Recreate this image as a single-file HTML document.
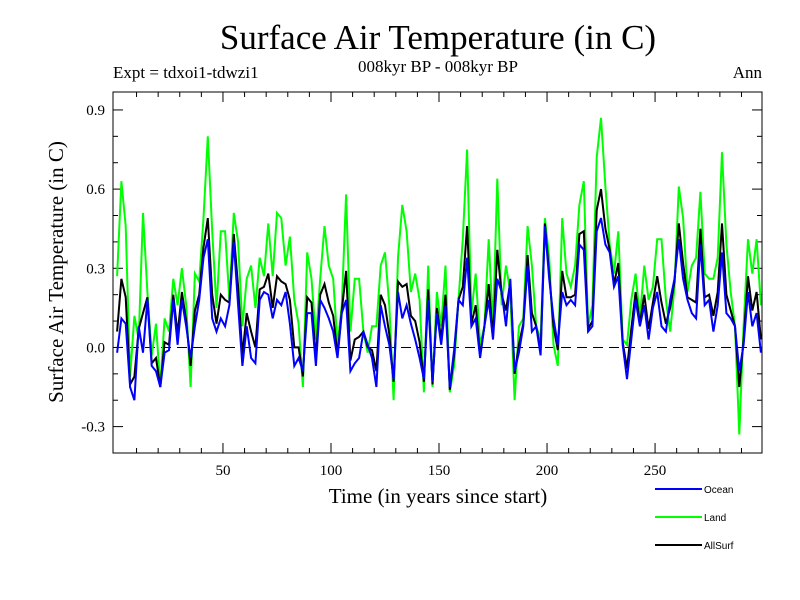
<!DOCTYPE html>
<html><head><meta charset="utf-8"><style>
html,body{margin:0;padding:0;background:#fff;}
svg{display:block;}
text{font-family:"Liberation Serif",serif;fill:#000;}
</style></head><body>
<svg id="chart" width="800" height="600">
<text x="438" y="49" font-size="35" text-anchor="middle">Surface Air Temperature (in C)</text>
<text x="438" y="72" font-size="17" text-anchor="middle">008kyr BP - 008kyr BP</text>
<text x="113" y="78" font-size="17">Expt = tdxoi1-tdwzi1</text>
<text x="762" y="78" font-size="17" text-anchor="end">Ann</text>
<text transform="translate(63,272) rotate(-90)" font-size="21" text-anchor="middle">Surface Air Temperature (in C)</text>
<text x="438" y="503" font-size="21" text-anchor="middle">Time (in years since start)</text>
<g id="ticks"></g>
<g id="series"></g>
<rect x="113" y="92" width="649" height="361" fill="none" stroke="#000" stroke-width="1"/>
<g id="legend"></g>
</svg>
<script>
const years = Array.from({length:150},(_,i)=>1+2*i);
const ocean = [-0.02,0.11,0.09,-0.15,-0.20,0.08,-0.02,0.18,-0.07,-0.09,-0.15,-0.02,-0.01,0.18,0.01,0.18,0.08,-0.04,0.08,0.18,0.34,0.41,0.11,0.06,0.11,0.08,0.16,0.40,0.16,-0.07,0.08,-0.04,-0.06,0.18,0.21,0.20,0.11,0.18,
0.16,0.21,0.09,-0.07,-0.04,-0.09,0.13,0.13,-0.07,0.18,0.15,0.11,0.06,-0.04,0.13,0.18,-0.09,-0.06,-0.04,0.06,0.01,-0.04,-0.15,0.16,0.08,0.01,-0.12,0.21,0.11,0.16,0.09,0.03,-0.04,-0.12,0.18,-0.13,0.13,
0.01,0.16,-0.15,-0.01,0.18,0.16,0.34,0.08,0.11,-0.04,0.08,0.18,0.03,0.26,0.21,0.08,0.26,-0.09,-0.02,0.08,0.31,0.06,0.08,-0.03,0.46,0.26,0.11,0.01,0.21,0.16,0.18,0.16,0.39,0.37,0.06,0.08,0.44,0.49,
0.39,0.36,0.23,0.27,0.01,-0.12,0.03,0.18,0.08,0.16,0.03,0.15,0.21,0.08,0.06,0.18,0.26,0.41,0.26,0.18,0.13,0.11,0.39,0.16,0.18,0.06,0.16,0.36,0.13,0.11,0.08,-0.09,0.01,0.21,0.08,0.13,-0.02];
const land = [0.27,0.63,0.46,-0.11,0.12,0.03,0.51,0.21,-0.03,0.09,-0.15,0.11,0.06,0.26,0.16,0.30,0.16,-0.15,0.28,0.25,0.49,0.80,0.44,0.15,0.44,0.44,0.18,0.51,0.40,0.08,0.26,0.31,0.15,0.34,0.27,0.47,0.27,0.51,
0.49,0.31,0.42,0.18,0.09,-0.15,0.36,0.26,0.03,0.26,0.46,0.31,0.26,0.01,0.16,0.58,0.06,0.26,0.26,0.06,-0.02,0.08,0.08,0.31,0.36,0.16,-0.20,0.34,0.54,0.44,0.21,0.28,0.18,-0.17,0.31,-0.15,0.21,
0.08,0.31,-0.17,-0.07,0.18,0.41,0.75,0.13,0.28,0.01,0.08,0.41,0.08,0.64,0.16,0.31,0.21,-0.20,0.08,0.11,0.46,0.31,0.08,0.03,0.49,0.34,0.01,-0.07,0.49,0.28,0.23,0.31,0.54,0.63,0.08,0.16,0.72,0.87,
0.61,0.39,0.28,0.44,0.03,0.01,0.18,0.28,0.11,0.31,0.18,0.23,0.41,0.41,0.18,0.06,0.23,0.61,0.49,0.21,0.31,0.34,0.59,0.28,0.26,0.26,0.34,0.74,0.39,0.21,0.08,-0.33,0.08,0.41,0.28,0.41,0.16];
const allSurf = [0.06,0.26,0.19,-0.14,-0.11,0.07,0.13,0.19,-0.06,-0.04,-0.15,0.02,0.01,0.20,0.05,0.21,0.10,-0.07,0.14,0.20,0.38,0.49,0.20,0.09,0.20,0.18,0.17,0.43,0.23,-0.03,0.13,0.06,0.00,0.22,0.23,0.28,0.15,0.27,
0.25,0.24,0.18,0.00,0.00,-0.11,0.19,0.17,-0.04,0.20,0.24,0.17,0.12,-0.03,0.14,0.29,-0.05,0.03,0.04,0.06,0.00,-0.01,-0.09,0.20,0.16,0.05,-0.13,0.25,0.23,0.24,0.12,0.10,0.02,-0.13,0.22,-0.14,0.15,
0.03,0.20,-0.16,-0.03,0.18,0.23,0.46,0.09,0.16,-0.03,0.08,0.24,0.04,0.37,0.20,0.14,0.25,-0.10,0.01,0.09,0.35,0.13,0.08,-0.01,0.47,0.28,0.08,-0.01,0.29,0.19,0.19,0.20,0.43,0.44,0.07,0.10,0.52,0.60,
0.45,0.37,0.24,0.32,0.02,-0.08,0.07,0.21,0.09,0.20,0.07,0.17,0.27,0.17,0.09,0.15,0.25,0.47,0.32,0.19,0.18,0.17,0.45,0.19,0.20,0.12,0.21,0.47,0.20,0.14,0.08,-0.15,0.03,0.27,0.14,0.21,0.03];
const yTickLabels = ["-0.3","0.0","0.3","0.6","0.9"];
const xTickLabels = ["50","100","150","200","250"];

const L=113,R=762,T=92,B=453;
const xMin=-0.9,xMax=299.5,yMin=-0.40,yMax=0.968;
const sx=v=>L+(v-xMin)/(xMax-xMin)*(R-L);
const sy=v=>B-(v-yMin)/(yMax-yMin)*(B-T);
const NS="http://www.w3.org/2000/svg";
function mk(tag,attrs,parent){const e=document.createElementNS(NS,tag);for(const k in attrs)e.setAttribute(k,attrs[k]);parent.appendChild(e);return e;}

const tg=document.getElementById('ticks');
// y ticks
for(let v=-0.3;v<=0.95;v+=0.1){
  const y=sy(v); const major=Math.abs(Math.round(v*10)%3)===0;
  const len=major?10:5;
  const t1=mk('line',{x1:L,x2:L+len,y1:y,y2:y,stroke:'#000','stroke-width':1},tg);
  
  
  const t2=mk('line',{x1:R,x2:R-len,y1:y,y2:y,stroke:'#000','stroke-width':1},tg);
  
  
}
yTickLabels.forEach(s=>{
  const t=mk('text',{x:L-8,y:sy(parseFloat(s))+5,'font-size':15,'text-anchor':'end'},tg);
  t.textContent=s;
  
  
});
for(let v=10;v<300;v+=10){
  const x=sx(v); const major=v%50===0; const len=major?10:5;
  const t1=mk('line',{x1:x,x2:x,y1:B,y2:B-len,stroke:'#000','stroke-width':1},tg);
  
  
  const t2=mk('line',{x1:x,x2:x,y1:T,y2:T+len,stroke:'#000','stroke-width':1},tg);
  
  
}
xTickLabels.forEach(s=>{
  const t=mk('text',{x:sx(parseFloat(s)),y:B+22,'font-size':15,'text-anchor':'middle'},tg);
  t.textContent=s;
  
  
});
const zl=mk('line',{x1:L,x2:R,y1:sy(0),y2:sy(0),stroke:'#000','stroke-width':1,'stroke-dasharray':'10,6'},tg);



const sg=document.getElementById('series');
function line(vals,color,name){
  const d=vals.map((v,i)=>(i?'L':'M')+sx(years[i]).toFixed(1)+','+sy(v).toFixed(1)).join('');
  const p=mk('path',{d:d,fill:'none',stroke:color,'stroke-width':2,'stroke-linejoin':'miter'},sg);
  
  
}
line(land,'#00ff00','land-line');
line(allSurf,'#000000','allsurf-line');
line(ocean,'#0000ff','ocean-line');

const lg=document.getElementById('legend');
[['Ocean','#0000ff',489],['Land','#00ff00',517],['AllSurf','#000000',545]].forEach(([n,c,y])=>{
  const l=mk('line',{x1:655,x2:702,y1:y,y2:y,stroke:c,'stroke-width':2},lg);
  
  
  const t=mk('text',{x:704,y:y+4,'font-size':10,style:'font-family:"Liberation Sans",sans-serif'},lg);
  t.textContent=n;
  
  
});
</script>
</body></html>
